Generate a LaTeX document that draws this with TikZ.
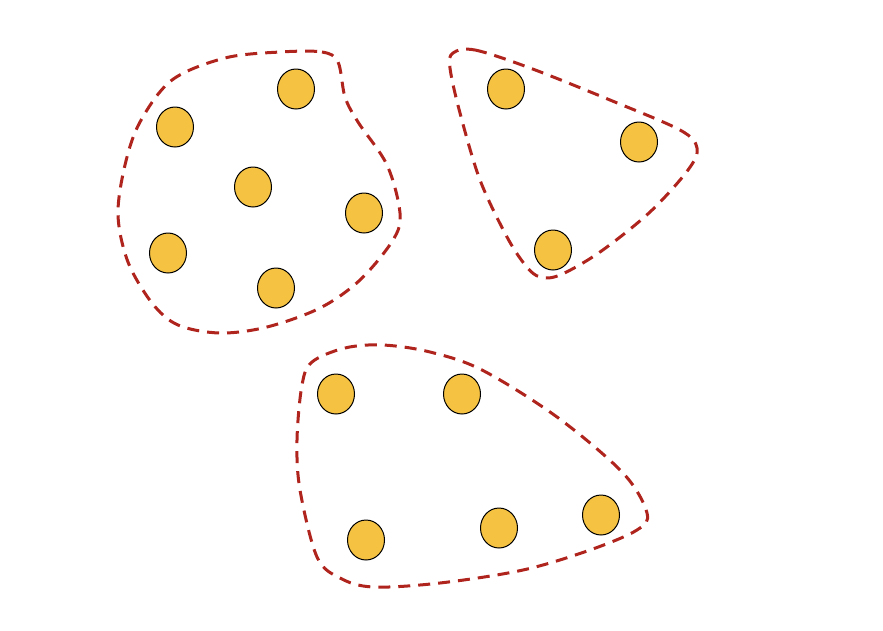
\documentclass[tikz,border=0pt]{standalone}
\usepackage{tikz}
\usetikzlibrary{shapes.geometric}
\definecolor{blobrojo}{RGB}{176, 36, 30}
\definecolor{puntooro}{RGB}{245,194, 66}

\begin{document}
\begin{tikzpicture}[x=1pt,y=-1pt,
  punto/.style={ellipse,draw=black,line width=1pt,fill=puntooro,
                minimum width=37pt,minimum height=40pt,inner sep=0pt},
  grupo/.style={draw=blobrojo,line width=3pt,dash pattern=on 12pt off 8pt}]
\useasboundingbox (0,0) rectangle (883,630);
% grupo de seis
\draw[grupo] plot[smooth cycle,tension=0.55] coordinates {
  (280,52) (322,52) (338,62) (345,97) (358,122) (387,165) (400,213)
  (393,240) (360,280) (320,308) (267,327) (220,333) (178,325) (152,303)
  (128,262) (118,215) (125,165) (140,122) (172,80) (225,58)};
% grupo de tres
\draw[grupo] plot[smooth cycle,tension=0.55] coordinates {
  (453,53) (475,50) (530,68) (610,100) (680,130) (697,148) (688,170)
  (650,212) (600,252) (560,275) (540,277) (526,266) (507,237) (480,180)
  (460,113) (450,68)};
% grupo de cinco
\draw[grupo] plot[smooth cycle,tension=0.55] coordinates {
  (312,362) (345,348) (383,345) (430,352) (482,370) (557,417) (623,473) (647,513)
  (637,530) (590,550) (523,570) (440,583) (373,587) (340,578) (317,557)
  (300,490) (297,440) (302,385)};
% puntos
\foreach \nombre/\x/\y in {a1/296/89,a2/175/127,a3/253/187,a4/364/213,a5/168/253,a6/276/288,
                           b1/506/89,b2/639/142,b3/553/250,
                           c1/336/394,c2/462/394,c3/366/540,c4/499/528,c5/601/515}
  \node[punto] (\nombre) at (\x,\y) {};
\end{tikzpicture}
\end{document}
